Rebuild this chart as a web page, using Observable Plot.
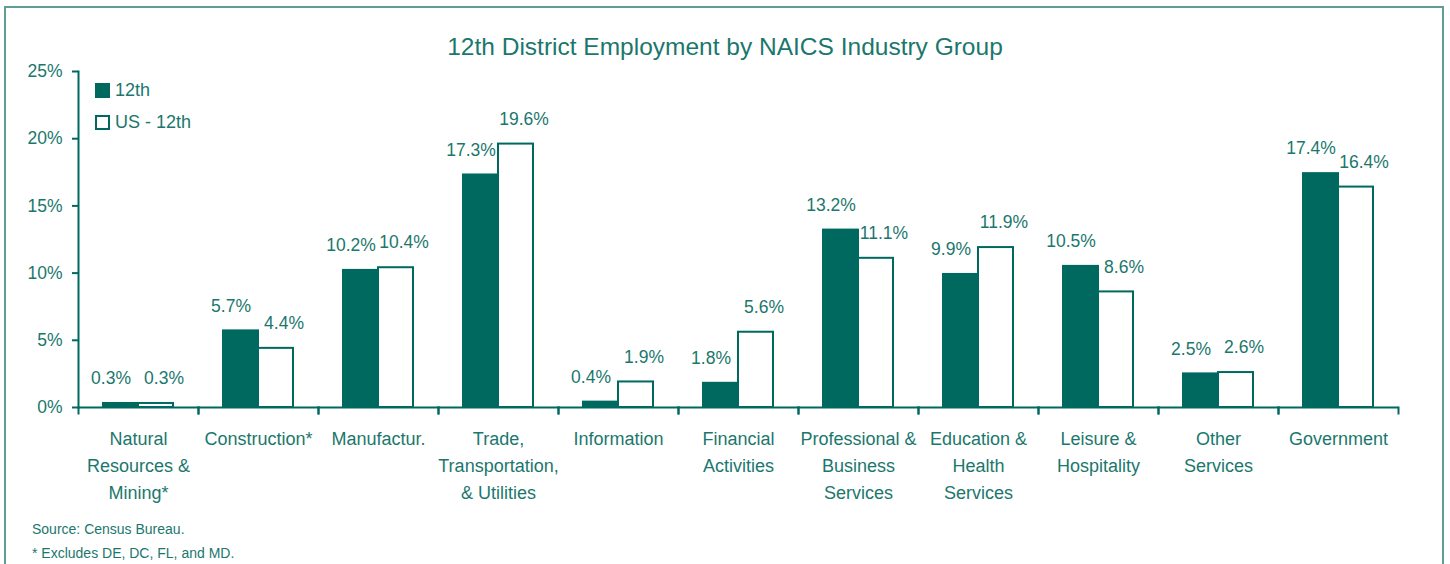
<!DOCTYPE html>
<html>
<head>
<meta charset="utf-8">
<script src="https://cdn.jsdelivr.net/npm/d3@7"></script>
<script src="https://cdn.jsdelivr.net/npm/@observablehq/plot@0.6"></script>
<style>
  html, body { margin: 0; padding: 0; background: #fff; }
  body { width: 1450px; height: 564px; position: relative; overflow: hidden; font-family: "Liberation Sans", Arial, sans-serif; color: #1b776d; }
  #border { position: absolute; left: 4px; top: 6px; width: 1440px; height: 600px; border: 2px solid #5f9d95; box-sizing: border-box; }
  #title { position: absolute; left: 0; top: 34px; width: 1450px; text-align: center; font-size: 24.5px; line-height: 26px; }
  #chart { position: absolute; left: 0; top: 0; }
  #legend { position: absolute; left: 95px; top: 74px; font-size: 18px; }
  .li { display: flex; align-items: center; height: 32px; }
  .sw { width: 15px; height: 15px; box-sizing: border-box; border: 2px solid #00695f; margin-right: 5px; }
  #notes { position: absolute; left: 32px; top: 517px; font-size: 14px; line-height: 24px; }
</style>
</head>
<body>
<div id="border"></div>
<div id="chart"></div>
<div id="title">12th District Employment by NAICS Industry Group</div>
<div id="legend"></div>
<div id="notes"><div>Source: Census Bureau.</div><div>* Excludes DE, DC, FL, and MD.</div></div>
<script>
const categories = [
  "Natural\nResources &\nMining*",
  "Construction*",
  "Manufactur.",
  "Trade,\nTransportation,\n& Utilities",
  "Information",
  "Financial\nActivities",
  "Professional &\nBusiness\nServices",
  "Education &\nHealth\nServices",
  "Leisure &\nHospitality",
  "Other\nServices",
  "Government"
];
const series = ["12th", "US - 12th"];
const twelfth = [0.3, 5.7, 10.2, 17.3, 0.4, 1.8, 13.2, 9.9, 10.5, 2.5, 17.4];
const usMinus12th = [0.3, 4.4, 10.4, 19.6, 1.9, 5.6, 11.1, 11.9, 8.6, 2.6, 16.4];
const yTicks = [0, 5, 10, 15, 20, 25];

const dark = "#00695f";
const textColor = "#1b776d";

const rows = [];
categories.forEach((c, i) => {
  rows.push({category: c, series: series[0], value: twelfth[i]});
  rows.push({category: c, series: series[1], value: usMinus12th[i]});
});
const fmt = d => d.value.toFixed(1) + "%";

const chart = Plot.plot({
  width: 1450,
  height: 510,
  marginLeft: 78,
  marginRight: 52,
  marginTop: 71,
  marginBottom: 103,
  style: {fontFamily: "'Liberation Sans', Arial, sans-serif", color: textColor, background: "transparent", overflow: "visible"},
  fx: {domain: categories, padding: 0, label: null},
  x: {domain: series, paddingInner: 0, paddingOuter: 0.714, axis: null},
  y: {domain: [0, 25], nice: false, label: null},
  color: {domain: series, range: [dark, "#ffffff"]},
  marks: [
    Plot.barY(rows, {fx: "category", x: "series", y: "value", fill: "series", stroke: dark, strokeWidth: 2}),
    Plot.ruleY([0], {stroke: dark, strokeWidth: 2}),
    Plot.frame({anchor: "left", insetTop: 336, insetBottom: -6, stroke: dark, strokeWidth: 2}),
    Plot.frame({anchor: "right", insetTop: 336, insetBottom: -6, stroke: dark, strokeWidth: 2}),
    Plot.frame({anchor: "left", facetAnchor: "left", stroke: dark, strokeWidth: 2}),
    Plot.text(rows.filter(d => d.series === series[0]), {fx: "category", x: "series", y: "value", text: fmt, dy: -25, dx: -10, fontSize: 17.5, fill: textColor}),
    Plot.text(rows.filter(d => d.series === series[1]), {fx: "category", x: "series", y: "value", text: fmt, dy: -25, dx: 8, fontSize: 17.5, fill: textColor}),
    Plot.axisY({ticks: yTicks, tickFormat: d => d + "%", tickSize: 6, tickPadding: 10, strokeWidth: 2, stroke: dark, fontSize: 17.5, fill: textColor, label: null}),
    Plot.axisFx({anchor: "bottom", tickSize: 0, tickPadding: 18, fontSize: 18, lineHeight: 1.5, fill: textColor, label: null})
  ]
});
document.getElementById("chart").appendChild(chart);

const legend = document.getElementById("legend");
series.forEach((s, i) => {
  const row = document.createElement("div");
  row.className = "li";
  const sw = document.createElement("div");
  sw.className = "sw";
  sw.style.background = i === 0 ? dark : "#fff";
  const t = document.createElement("span");
  t.textContent = s;
  row.appendChild(sw);
  row.appendChild(t);
  legend.appendChild(row);
});
</script>
</body>
</html>
